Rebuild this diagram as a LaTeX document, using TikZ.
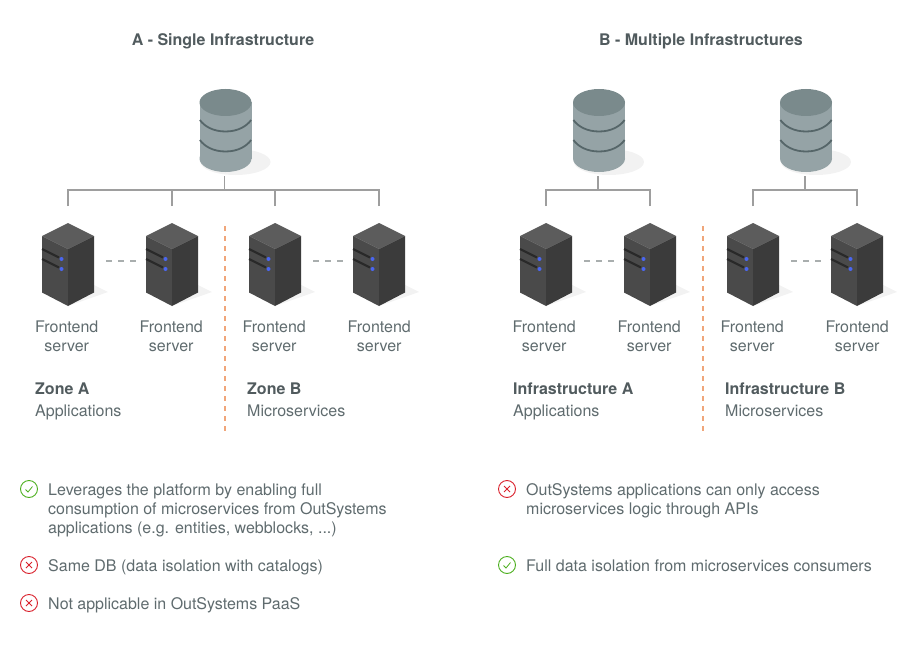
\documentclass[tikz,border=0pt]{standalone}
\usepackage{fontspec}
\setmainfont{TeX Gyre Heros}
\definecolor{txtgray}{HTML}{5F6B6E}
\definecolor{headgray}{HTML}{515B5E}
\definecolor{linkgray}{HTML}{9E9E9E}
\definecolor{dashgray}{HTML}{A9AEAE}
\definecolor{zoneorange}{HTML}{F0A67A}
\definecolor{shadowgray}{HTML}{F2F2F2}
\definecolor{dbtop}{HTML}{7A8A8C}
\definecolor{dbbody}{HTML}{95A3A6}
\definecolor{dbband}{HTML}{566669}
\definecolor{srvdot}{HTML}{4A66F0}
\definecolor{okgreen}{HTML}{4CAF1E}
\definecolor{badred}{HTML}{D9212C}
\begin{document}
\begin{tikzpicture}[
  x=1pt, y=-1pt,
  label/.style={inner sep=0pt, text=txtgray, font=\fontsize{16}{19}\selectfont, execute at begin node=\strut},
  srvlabel/.style={label, anchor=north, align=center},
  note/.style={label, anchor=north west, align=left},
  heading/.style={label, anchor=north, text=headgray, font=\fontsize{16}{19}\selectfont\bfseries},
  zonename/.style={note, text=headgray, font=\fontsize{16}{19}\selectfont\bfseries},
  link/.style={draw=linkgray, line width=1.1pt},
  gap/.style={draw=dashgray, line width=1.5pt, dash pattern=on 6pt off 6pt},
  divider/.style={draw=zoneorange, line width=1.5pt, dash pattern=on 5pt off 5pt},
  database/.pic={
    \fill[shadowgray] (10,73) ellipse (35 and 13);
    \fill[dbbody] (-26,13.5) rectangle (26,69.5);
    \fill[dbbody] (0,69.5) ellipse (26 and 13.5);
    \fill[dbtop] (0,13.5) ellipse (26 and 13.5);
    \draw[dbband, line width=1.8pt] (-25.6,31) .. controls (-21,37.5) and (-12,42.5) .. (0,42.5) .. controls (12,42.5) and (21,37.5) .. (25.6,31);
    \draw[dbband, line width=1.8pt] (-25.6,51) .. controls (-21,57.5) and (-12,62.5) .. (0,62.5) .. controls (12,62.5) and (21,57.5) .. (25.6,51);
    \coordinate (-foot) at (-1,87);
  },
  server/.pic={
    \fill[shadowgray] (26,62) -- (40,69) -- (0,83) -- cycle;
    \fill[black!64] (0,0) -- (26,13) -- (0,26) -- (-26,13) -- cycle;
    \fill[black!71] (-26,13) -- (0,26) -- (0,83) -- (-26,69.5) -- cycle;
    \fill[black!77] (26,13) -- (0,26) -- (0,83) -- (26,69.5) -- cycle;
    \draw[black!84, line width=2.2pt] (-26,26) -- (-9,34.5);
    \draw[black!84, line width=2.2pt] (-26,36) -- (-9,44.5);
    \fill[srvdot] (-6.5,36) circle (2);
    \fill[srvdot] (-6.5,46) circle (2);
    \coordinate (-up) at (0,-17);
  },
  okicon/.pic={
    \draw[okgreen, line width=0.9pt] (0,0) circle (8.5);
    \draw[okgreen, line width=0.8pt] (-3.5,0.5) -- (-1,3) -- (3.5,-2.5);
  },
  badicon/.pic={
    \draw[badred, line width=0.9pt] (0,0) circle (8.5);
    \draw[badred, line width=0.9pt] (-3,-3) -- (3,3) (-3,3) -- (3,-3);
  }
]
\useasboundingbox (0,0) rectangle (923,650);

% Headings
\node[heading] (headA) at (223,32) {A - Single Infrastructure};
\node[heading] (headB) at (701,32) {B - Multiple Infrastructures};

% Databases
\pic (dbA) at (225.5,89) {database};
\pic (dbB) at (599,89) {database};
\pic (dbC) at (806,89) {database};

% Servers
\foreach \name/\xpos in {s1/68,s2/172,s3/275,s4/379,s5/546,s6/650,s7/753,s8/857}
  \pic (\name) at (\xpos,223) {server};

% Bus lines
\coordinate (busA) at (224.5,190);
\coordinate (busB) at (598,190);
\coordinate (busC) at (805,190);
\draw[link] (dbA-foot) -- (busA);
\draw[link] (dbB-foot) -- (busB);
\draw[link] (dbC-foot) -- (busC);
\foreach \name in {s1,s2,s3,s4}
  \draw[link] (\name-up) |- (busA);
\foreach \name in {s5,s6}
  \draw[link] (\name-up) |- (busB);
\foreach \name in {s7,s8}
  \draw[link] (\name-up) |- (busC);

% Dashes between servers
\foreach \from/\to in {s1/s2,s3/s4,s5/s6,s7/s8}
  \draw[gap] ([xshift=38pt,yshift=-55pt]\from-up) -- ([xshift=-35pt,yshift=-55pt]\to-up);

% Zone dividers
\coordinate (divAtop) at (225,226);
\coordinate (divAend) at (225,432);
\coordinate (divBtop) at (703,226);
\coordinate (divBend) at (703,432);
\draw[divider] (divAtop) -- (divAend);
\draw[divider] (divBtop) -- (divBend);

% Server labels
\foreach \name/\xpos in {l1/66.7,l2/171.2,l3/274.2,l4/379.2,l5/544.2,l6/649.2,l7/752.2,l8/857.2}
  \node[srvlabel] (\name) at (\xpos,320.2) {Frontend\\server};

% Zones
\node[zonename] (zoneA) at (35,380.7) {Zone A};
\node[note] (zoneAtxt) at (35,402.7) {Applications};
\node[zonename] (zoneB) at (247,380.7) {Zone B};
\node[note] (zoneBtxt) at (247,402.7) {Microservices};
\node[zonename] (infraA) at (513,380.7) {Infrastructure A};
\node[note] (infraAtxt) at (513,402.7) {Applications};
\node[zonename] (infraB) at (725,380.7) {Infrastructure B};
\node[note] (infraBtxt) at (725,402.7) {Microservices};

% Notes left
\pic (mark1) at (29,489) {okicon};
\pic (mark2) at (29,565) {badicon};
\pic (mark3) at (29,603) {badicon};
\node[note] (note1) at (48,483.2) {Leverages the platform by enabling full\\consumption of microservices from OutSystems\\applications (e.g. entities, webblocks, ...)};
\node[note] (note2) at (48,557.7) {Same DB (data isolation with catalogs)};
\node[note] (note3) at (48,595.7) {Not applicable in OutSystems PaaS};

% Notes right
\pic (mark4) at (507,489) {badicon};
\pic (mark5) at (507,565) {okicon};
\node[note] (note4) at (526,483.2) {OutSystems applications can only access\\microservices logic through APIs};
\node[note] (note5) at (526,557.7) {Full data isolation from microservices consumers};

\end{tikzpicture}
\end{document}
